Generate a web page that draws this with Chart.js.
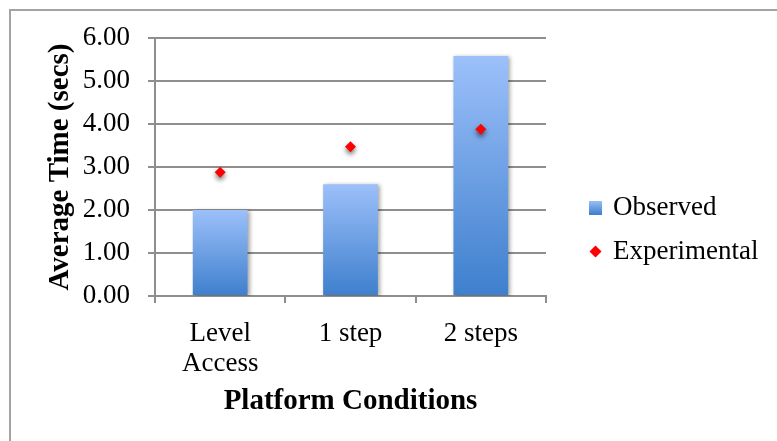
<!DOCTYPE html>
<html>
<head>
<meta charset="utf-8">
<script src="https://cdn.jsdelivr.net/npm/chart.js@4.4.1/dist/chart.umd.min.js"></script>
<style>
  html, body { margin: 0; padding: 0; background: #fff; }
  #wrap { position: relative; width: 777px; height: 441px; overflow: hidden; }
  #frame { position: absolute; left: 9px; top: 9px; width: 800px; height: 500px;
           border-top: 2px solid #a3a3a3; border-left: 2px solid #a3a3a3; }
  canvas { position: absolute; left: 0; top: 0; }
</style>
</head>
<body>
<div id="wrap">
  <div id="frame"></div>
  <canvas id="c" width="777" height="441"></canvas>
</div>
<script>
// Average time per platform condition
const categories = [['Level', 'Access'], '1 step', '2 steps'];
const observed = [2.00, 2.60, 5.58];
const experimental = [2.88, 3.47, 3.88];
const yTickLabels = ['0.00', '1.00', '2.00', '3.00', '4.00', '5.00', '6.00'];

const SERIF = "'Liberation Serif', 'Times New Roman', serif";
const GRID = '#8e8e8e';
const BAR_TOP = '#9cc0fa';
const BAR_BOTTOM = '#3e7fcd';

// small gradient square used as the legend marker for the bars
const swatch = document.createElement('canvas');
swatch.width = 13; swatch.height = 14;
(() => {
  const g = swatch.getContext('2d');
  const lg = g.createLinearGradient(0, 0, 0, 14);
  lg.addColorStop(0, BAR_TOP);
  lg.addColorStop(1, BAR_BOTTOM);
  g.fillStyle = lg;
  g.fillRect(0, 0, 13, 14);
})();

// each bar gets its own vertical gradient, light at the top, dark at the base
function barFill(ctx) {
  const chart = ctx.chart;
  if (ctx.type !== 'data' || !chart.chartArea || !chart.scales.y) return BAR_BOTTOM;
  const y = chart.scales.y;
  const top = y.getPixelForValue(ctx.raw);
  const base = y.getPixelForValue(0);
  const g = chart.ctx.createLinearGradient(0, top, 0, base);
  g.addColorStop(0, BAR_TOP);
  g.addColorStop(1, BAR_BOTTOM);
  return g;
}

// soft drop shadows under bars and markers
const softShadow = {
  id: 'softShadow',
  beforeDatasetDraw(chart, args) {
    const c = chart.ctx;
    c.save();
    if (args.index === 0) {
      c.shadowColor = 'rgba(0,0,0,0.35)';
      c.shadowBlur = 4;
      c.shadowOffsetX = 2;
      c.shadowOffsetY = 1;
    } else {
      c.shadowColor = 'rgba(0,0,0,0.55)';
      c.shadowBlur = 5;
      c.shadowOffsetX = 0;
      c.shadowOffsetY = 3;
    }
  },
  afterDatasetDraw(chart) {
    chart.ctx.restore();
  }
};

// fixed width and placement for the right-hand legend
const legendPlace = {
  id: 'legendPlace',
  beforeLayout(chart) {
    const lg = chart.legend;
    if (lg && !lg.__fixedWidth) {
      const fit = lg.fit;
      lg.fit = function () {
        fit.call(this);
        if (!this.isHorizontal()) this.width = 231;
      };
      lg.__fixedWidth = true;
    }
  },
  afterUpdate(chart) {
    const lg = chart.legend;
    if (!lg) return;
    const w = lg.width, h = lg.height;
    lg.left = 574.5; lg.right = lg.left + w;
    lg.top = 177; lg.bottom = lg.top + h;
    lg.adjustHitBoxes();
  }
};

new Chart(document.getElementById('c'), {
  type: 'bar',
  data: {
    labels: categories,
    datasets: [
      {
        type: 'bar',
        label: 'Observed',
        data: observed,
        backgroundColor: barFill,
        borderWidth: 0,
        barPercentage: 0.42,
        categoryPercentage: 1,
        order: 1
      },
      {
        type: 'line',
        label: 'Experimental',
        data: experimental,
        showLine: false,
        pointStyle: 'rectRot',
        pointRadius: 5.5,
        pointHoverRadius: 5.5,
        pointBorderWidth: 0,
        backgroundColor: '#ff0000',
        borderColor: '#ff0000',
        order: 0
      }
    ]
  },
  options: {
    responsive: false,
    animation: false,
    devicePixelRatio: 1,
    layout: { padding: { top: 38, right: 0, bottom: 0, left: 0 } },
    plugins: {
      tooltip: { enabled: false },
      legend: {
        position: 'right',
        align: 'start',
        labels: {
          usePointStyle: true,
          boxWidth: 8,
          boxHeight: 8.49,
          padding: 17,
          color: '#000',
          font: { family: SERIF, size: 27 },
          sort: (a, b) => a.datasetIndex - b.datasetIndex,
          generateLabels(chart) {
            const items = Chart.defaults.plugins.legend.labels.generateLabels(chart);
            items.forEach(it => {
              if (it.datasetIndex === 0) {
                it.pointStyle = swatch;
              } else {
                it.pointStyle = 'rectRot';
                it.fillStyle = '#ff0000';
                it.strokeStyle = '#ff0000';
                it.lineWidth = 0;
              }
            });
            return items;
          }
        }
      }
    },
    scales: {
      x: {
        offset: true,
        grid: { offset: true, drawOnChartArea: false, drawTicks: true, tickLength: 7, color: GRID, lineWidth: 2 },
        border: { color: GRID, width: 2 },
        ticks: { color: '#000', font: { family: SERIF, size: 27, lineHeight: 1.11 }, padding: 16, maxRotation: 0, autoSkip: false },
        title: {
          display: true, text: 'Platform Conditions', color: '#000',
          font: { family: SERIF, size: 29, weight: 'bold', lineHeight: 1.2 },
          padding: { top: 0, bottom: 21.6 }
        },
        afterFit(s) { s.height = 145; }
      },
      y: {
        min: 0, max: 6,
        grid: { color: GRID, lineWidth: 2, tickLength: 7 },
        border: { color: GRID, width: 2 },
        ticks: {
          stepSize: 1, padding: 18, color: '#000',
          font: { family: SERIF, size: 27 },
          callback: (v, i) => yTickLabels[i]
        },
        title: {
          display: true, text: 'Average Time (secs)', color: '#000',
          font: { family: SERIF, size: 29, weight: 'bold', lineHeight: 1.2 },
          padding: { top: 43.6, bottom: 0 }
        },
        afterFit(s) { s.width = 155; }
      }
    }
  },
  plugins: [softShadow, legendPlace]
});
</script>
</body>
</html>
